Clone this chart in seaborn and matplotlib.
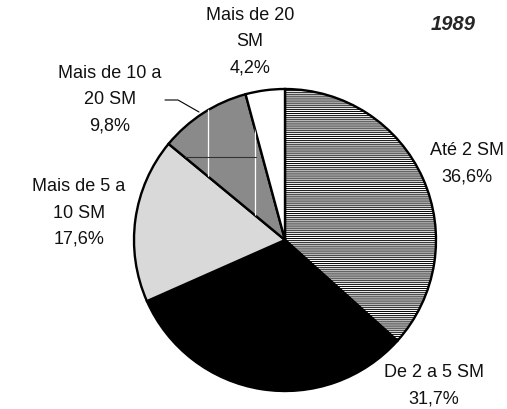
import matplotlib
matplotlib.use("Agg")
import matplotlib.pyplot as plt
import seaborn as sns

categories = ["Até 2 SM", "De 2 a 5 SM", "Mais de 5 a 10 SM", "Mais de 10 a 20 SM", "Mais de 20 SM"]
values = [36.6, 31.7, 17.6, 9.8, 4.2]
label_texts = ["Até 2 SM\n36,6%", "De 2 a 5 SM\n31,7%", "Mais de 5 a\n10 SM\n17,6%",
               "Mais de 10 a\n20 SM\n9,8%", "Mais de 20\nSM\n4,2%"]
title = "1989"

sns.set_theme(style="white")
plt.rcParams['font.family'] = ['Liberation Sans', 'DejaVu Sans']
plt.rcParams['hatch.linewidth'] = 0.7
plt.rcParams['hatch.color'] = '#666666'

W, H = 507, 409
fig = plt.figure(figsize=(W / 100, H / 100), dpi=100)
ax = fig.add_axes([0, 0, 1, 1])

faces = ['white', 'black', '#d9d9d9', '#8a8a8a', 'white']
hatches = ['--------', None, None, None, None]
cx, cy, r = 285, H - 240, 151
wedges, _ = ax.pie(values, startangle=90, counterclock=False, center=(cx, cy), radius=r,
                   colors=faces, frame=True,
                   wedgeprops=dict(edgecolor='black', linewidth=1.7))
for w, h in zip(wedges, hatches):
    if h:
        w.set_hatch(h)
ax.set_xlim(0, W)
ax.set_ylim(0, H)
ax.set_aspect('equal')
ax.axis('off')

# scan artefacts inside the dark grey slice
dark = wedges[3]
for x in (208, 255):
    ln, = ax.plot([x, x], [H - 60, H - 260], color='white', lw=0.9, zorder=1.5)
    ln.set_clip_path(dark)
ln, = ax.plot([185, 256], [H - 157, H - 157], color='#333333', lw=0.8, zorder=1.5)
ln.set_clip_path(dark)

fs = 13
pos = [(467, 164), (434, 386), (79, 213), (110, 100), (250, 42)]
for t, (x, y) in zip(label_texts, pos):
    ax.text(x, H - y, t, ha='center', va='center', fontsize=fs, linespacing=1.72, color='#111111')

# leader line for "Mais de 10 a 20 SM"
ax.plot([165, 178, 199], [H - 100, H - 100, H - 112], color='black', lw=0.8)

ax.text(476, H - 24, title, ha='right', va='center', fontsize=14.5,
        fontweight='bold', fontstyle='italic')

fig.savefig("out.png", dpi=100)
